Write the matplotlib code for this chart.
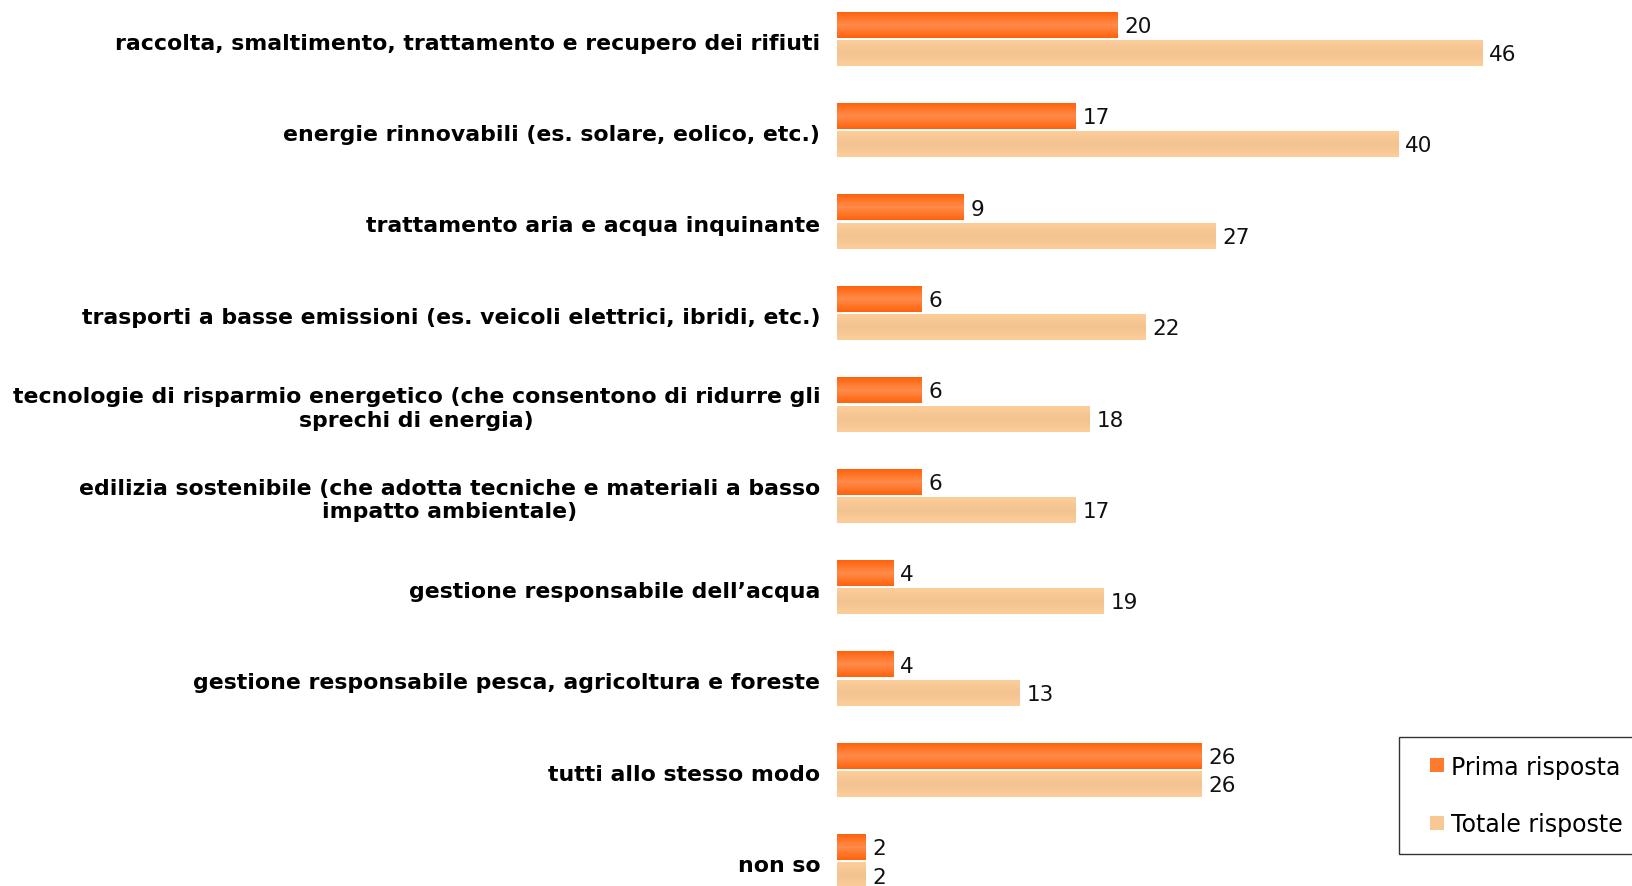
import numpy as np
import matplotlib
matplotlib.use("Agg")
import matplotlib.pyplot as plt
from matplotlib.colors import LinearSegmentedColormap
from matplotlib.lines import Line2D

# categories, top to bottom
categories = [
    "raccolta, smaltimento, trattamento e recupero dei rifiuti",
    "energie rinnovabili (es. solare, eolico, etc.)",
    "trattamento aria e acqua inquinante",
    "trasporti a basse emissioni (es. veicoli elettrici, ibridi, etc.)",
    "tecnologie di risparmio energetico (che consentono di ridurre gli\nsprechi di energia)",
    "edilizia sostenibile (che adotta tecniche e materiali a basso\nimpatto ambientale)",
    "gestione responsabile dell\u2019acqua",
    "gestione responsabile pesca, agricoltura e foreste",
    "tutti allo stesso modo",
    "non so",
]
prima = [20, 17, 9, 6, 6, 6, 4, 4, 26, 2]
totale = [46, 40, 27, 22, 18, 17, 19, 13, 26, 2]
series_names = ["Prima risposta", "Totale risposte"]

# vertical gradients (edge -> centre -> edge)
orange_cmap = LinearSegmentedColormap.from_list("orange", ["#FF620C", "#FF8C4A", "#FF620C"])
peach_cmap = LinearSegmentedColormap.from_list("peach", ["#FDCE9A", "#F2C390", "#FDCE9A"])

fig = plt.figure(figsize=(16.32, 8.87), dpi=100)
ax = fig.add_axes([837 / 1632, 0, 1 - 837 / 1632, 1])

grad = np.linspace(0, 1, 64).reshape(-1, 1)
bar_h = 0.28
offset = 0.155


def grad_bar(ax, y, value, cmap):
    ax.imshow(grad, extent=(0, value, y + bar_h / 2, y - bar_h / 2),
              cmap=cmap, aspect="auto", interpolation="bicubic", zorder=2)


for i, (p, t) in enumerate(zip(prima, totale)):
    grad_bar(ax, i - offset, p, orange_cmap)
    grad_bar(ax, i + offset, t, peach_cmap)
    ax.text(p + 0.5, i - offset + 0.01, str(p), va="center", ha="left", fontsize=15.5, color="#111111")
    ax.text(t + 0.5, i + offset + 0.01, str(t), va="center", ha="left", fontsize=15.5, color="#111111")
    ax.text(-1.2, i + 0.04, categories[i], va="center", ha="right", multialignment="center",
            fontsize=15.8, fontweight="bold", color="black", linespacing=1.23)

ax.set_xlim(0, (1632 - 837) / 14.03)
ax.set_ylim(9.267, -0.4376)
ax.axis("off")

handles = [Line2D([], [], ls="none", marker="s", markersize=10, markeredgewidth=0,
                  markerfacecolor="#FF7A2E"),
           Line2D([], [], ls="none", marker="s", markersize=10, markeredgewidth=0,
                  markerfacecolor="#F8C894")]
leg = fig.legend(handles, series_names, loc="upper left",
                 bbox_to_anchor=(1399 / 1632, 1 - 738 / 887),
                 fontsize=17, frameon=True, fancybox=False,
                 handlelength=1.74, handletextpad=-0.3,
                 labelspacing=1.41, borderpad=0.75, borderaxespad=0)
leg.get_frame().set_edgecolor("black")
leg.get_frame().set_linewidth(1.0)

fig.savefig("out.png", dpi=100)
